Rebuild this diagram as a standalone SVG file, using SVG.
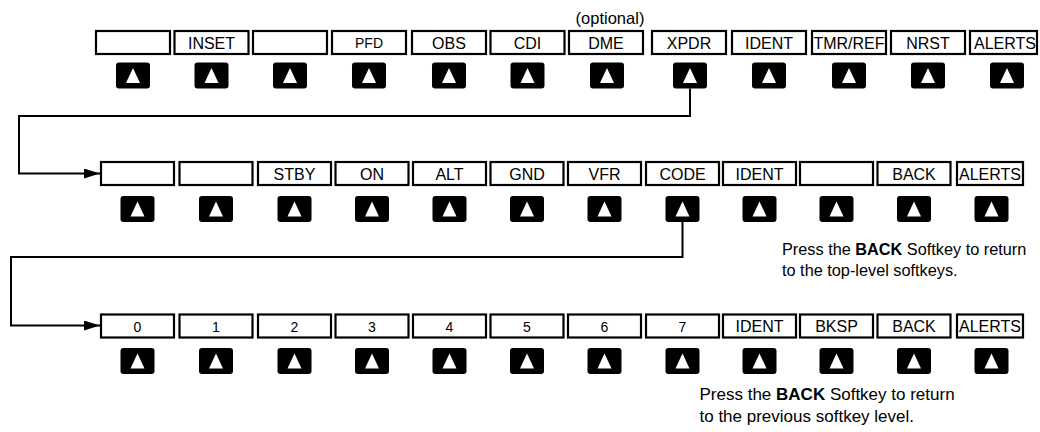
<svg xmlns="http://www.w3.org/2000/svg" xmlns:xlink="http://www.w3.org/1999/xlink" width="1040" height="432" viewBox="0 0 1040 432">
<style>
.bg{fill:#fff}
.box{fill:#fff;stroke:#000;stroke-width:2.2}
.lbl{font-family:"Liberation Sans",Arial,sans-serif;font-size:16px;text-anchor:middle;fill:#000}
.sm{font-size:14px}
.dg{font-size:14px}
.note{font-family:"Liberation Sans",Arial,sans-serif;fill:#000}
.conn{fill:none;stroke:#000;stroke-width:2}
</style>
<defs>
<g id="btn"><rect x="-17" y="0" width="34" height="26" rx="3" fill="#000"/><polygon points="0,5.5 7,20.5 -7,20.5" fill="#fff"/></g>
<marker id="arr" markerUnits="userSpaceOnUse" markerWidth="17" markerHeight="11" refX="16" refY="5" orient="auto" viewBox="0 0 17 11"><path d="M0,0 L16,5 L0,10 z" fill="#000"/></marker>
</defs>
<rect class="bg" x="0" y="0" width="1040" height="432"/>

<g id="connectors">
<path class="conn" d="M690 88.5 V116 H19 V173.5 H100" marker-end="url(#arr)"/>
<path class="conn" d="M682.5 222 V257 H11 V325.5 H100" marker-end="url(#arr)"/>
</g>

<text class="note" x="610" y="24" font-size="16.5" text-anchor="middle">(optional)</text>

<g id="top-1"><rect class="box" x="96" y="31" width="74" height="23"/><use xlink:href="#btn" href="#btn" x="133" y="62.5"/></g>
<g id="top-inset"><rect class="box" x="174.5" y="31" width="74" height="23"/><text class="lbl" x="211.5" y="48.5">INSET</text><use xlink:href="#btn" href="#btn" x="211.5" y="62.5"/></g>
<g id="top-3"><rect class="box" x="253" y="31" width="74" height="23"/><use xlink:href="#btn" href="#btn" x="290" y="62.5"/></g>
<g id="top-pfd"><rect class="box" x="332" y="31" width="74" height="23"/><text class="lbl sm" x="369" y="48">PFD</text><use xlink:href="#btn" href="#btn" x="369" y="62.5"/></g>
<g id="top-obs"><rect class="box" x="412" y="31" width="74" height="23"/><text class="lbl" x="449" y="48.5">OBS</text><use xlink:href="#btn" href="#btn" x="449" y="62.5"/></g>
<g id="top-cdi"><rect class="box" x="490.5" y="31" width="74" height="23"/><text class="lbl" x="527.5" y="48.5">CDI</text><use xlink:href="#btn" href="#btn" x="527.5" y="62.5"/></g>
<g id="top-dme"><rect class="box" x="569" y="31" width="74" height="23"/><text class="lbl" x="606" y="48.5">DME</text><use xlink:href="#btn" href="#btn" x="607" y="62.5"/></g>
<g id="top-xpdr"><rect class="box" x="652" y="31" width="74" height="23"/><text class="lbl" x="689" y="48.5">XPDR</text><use xlink:href="#btn" href="#btn" x="690" y="62.5"/></g>
<g id="top-ident"><rect class="box" x="732" y="31" width="74" height="23"/><text class="lbl" x="769" y="48.5">IDENT</text><use xlink:href="#btn" href="#btn" x="769" y="62.5"/></g>
<g id="top-tmrref"><rect class="box" x="812" y="31" width="74" height="23"/><text class="lbl" x="849" y="48.5">TMR/REF</text><use xlink:href="#btn" href="#btn" x="849" y="62.5"/></g>
<g id="top-nrst"><rect class="box" x="891" y="31" width="74" height="23"/><text class="lbl" x="928" y="48.5">NRST</text><use xlink:href="#btn" href="#btn" x="928" y="62.5"/></g>
<g id="top-alerts"><rect class="box" x="970" y="31" width="67" height="23"/><text class="lbl" x="1005" y="48.5">ALERTS</text><use xlink:href="#btn" href="#btn" x="1007" y="62.5"/></g>

<g id="mid-1"><rect class="box" x="101" y="162" width="73" height="23"/><use xlink:href="#btn" href="#btn" x="137.5" y="196"/></g>
<g id="mid-2"><rect class="box" x="179.5" y="162" width="73" height="23"/><use xlink:href="#btn" href="#btn" x="216" y="196"/></g>
<g id="mid-stby"><rect class="box" x="258" y="162" width="73" height="23"/><text class="lbl" x="294.5" y="179.5">STBY</text><use xlink:href="#btn" href="#btn" x="294.5" y="196"/></g>
<g id="mid-on"><rect class="box" x="335.5" y="162" width="73" height="23"/><text class="lbl" x="372" y="179.5">ON</text><use xlink:href="#btn" href="#btn" x="372" y="196"/></g>
<g id="mid-alt"><rect class="box" x="413" y="162" width="73" height="23"/><text class="lbl" x="449.5" y="179.5">ALT</text><use xlink:href="#btn" href="#btn" x="449.5" y="196"/></g>
<g id="mid-gnd"><rect class="box" x="490.5" y="162" width="73" height="23"/><text class="lbl" x="527" y="179.5">GND</text><use xlink:href="#btn" href="#btn" x="527" y="196"/></g>
<g id="mid-vfr"><rect class="box" x="568" y="162" width="73" height="23"/><text class="lbl" x="604.5" y="179.5">VFR</text><use xlink:href="#btn" href="#btn" x="604.5" y="196"/></g>
<g id="mid-code"><rect class="box" x="646" y="162" width="73" height="23"/><text class="lbl" x="682.5" y="179.5">CODE</text><use xlink:href="#btn" href="#btn" x="682.5" y="196"/></g>
<g id="mid-ident"><rect class="box" x="723" y="162" width="73" height="23"/><text class="lbl" x="759.5" y="179.5">IDENT</text><use xlink:href="#btn" href="#btn" x="759.5" y="196"/></g>
<g id="mid-10"><rect class="box" x="800" y="162" width="73" height="23"/><use xlink:href="#btn" href="#btn" x="836.5" y="196"/></g>
<g id="mid-back"><rect class="box" x="877.5" y="162" width="73" height="23"/><text class="lbl" x="914" y="179.5">BACK</text><use xlink:href="#btn" href="#btn" x="914" y="196"/></g>
<g id="mid-alerts"><rect class="box" x="957" y="162" width="66" height="23"/><text class="lbl" x="990" y="179.5">ALERTS</text><use xlink:href="#btn" href="#btn" x="991.5" y="196"/></g>

<g id="note-top"><text class="note" font-size="16.3" x="782" y="255">Press the <tspan font-weight="bold">BACK</tspan> Softkey to return</text><text class="note" font-size="16.3" x="782" y="276">to the top-level softkeys.</text></g>

<g id="bot-0"><rect class="box" x="101" y="314.5" width="73" height="23"/><text class="lbl dg" x="137.5" y="331.5">0</text><use xlink:href="#btn" href="#btn" x="137.5" y="348"/></g>
<g id="bot-1"><rect class="box" x="179.5" y="314.5" width="73" height="23"/><text class="lbl dg" x="216" y="331.5">1</text><use xlink:href="#btn" href="#btn" x="216" y="348"/></g>
<g id="bot-2"><rect class="box" x="258" y="314.5" width="73" height="23"/><text class="lbl dg" x="294.5" y="331.5">2</text><use xlink:href="#btn" href="#btn" x="294.5" y="348"/></g>
<g id="bot-3"><rect class="box" x="335.5" y="314.5" width="73" height="23"/><text class="lbl dg" x="372" y="331.5">3</text><use xlink:href="#btn" href="#btn" x="372" y="348"/></g>
<g id="bot-4"><rect class="box" x="413" y="314.5" width="73" height="23"/><text class="lbl dg" x="449.5" y="331.5">4</text><use xlink:href="#btn" href="#btn" x="449.5" y="348"/></g>
<g id="bot-5"><rect class="box" x="490.5" y="314.5" width="73" height="23"/><text class="lbl dg" x="527" y="331.5">5</text><use xlink:href="#btn" href="#btn" x="527" y="348"/></g>
<g id="bot-6"><rect class="box" x="568" y="314.5" width="73" height="23"/><text class="lbl dg" x="604.5" y="331.5">6</text><use xlink:href="#btn" href="#btn" x="604.5" y="348"/></g>
<g id="bot-7"><rect class="box" x="646" y="314.5" width="73" height="23"/><text class="lbl dg" x="682.5" y="331.5">7</text><use xlink:href="#btn" href="#btn" x="682.5" y="348"/></g>
<g id="bot-ident"><rect class="box" x="723" y="314.5" width="73" height="23"/><text class="lbl" x="759.5" y="332">IDENT</text><use xlink:href="#btn" href="#btn" x="759.5" y="348"/></g>
<g id="bot-bksp"><rect class="box" x="800" y="314.5" width="73" height="23"/><text class="lbl" x="836.5" y="332">BKSP</text><use xlink:href="#btn" href="#btn" x="836.5" y="348"/></g>
<g id="bot-back"><rect class="box" x="877.5" y="314.5" width="73" height="23"/><text class="lbl" x="914" y="332">BACK</text><use xlink:href="#btn" href="#btn" x="914" y="348"/></g>
<g id="bot-alerts"><rect class="box" x="957" y="314.5" width="66" height="23"/><text class="lbl" x="990" y="332">ALERTS</text><use xlink:href="#btn" href="#btn" x="991.5" y="348"/></g>

<g id="note-bottom"><text class="note" font-size="17" x="699.5" y="400">Press the <tspan font-weight="bold">BACK</tspan> Softkey to return</text><text class="note" font-size="17" x="699.5" y="422">to the previous softkey level.</text></g>
</svg>
